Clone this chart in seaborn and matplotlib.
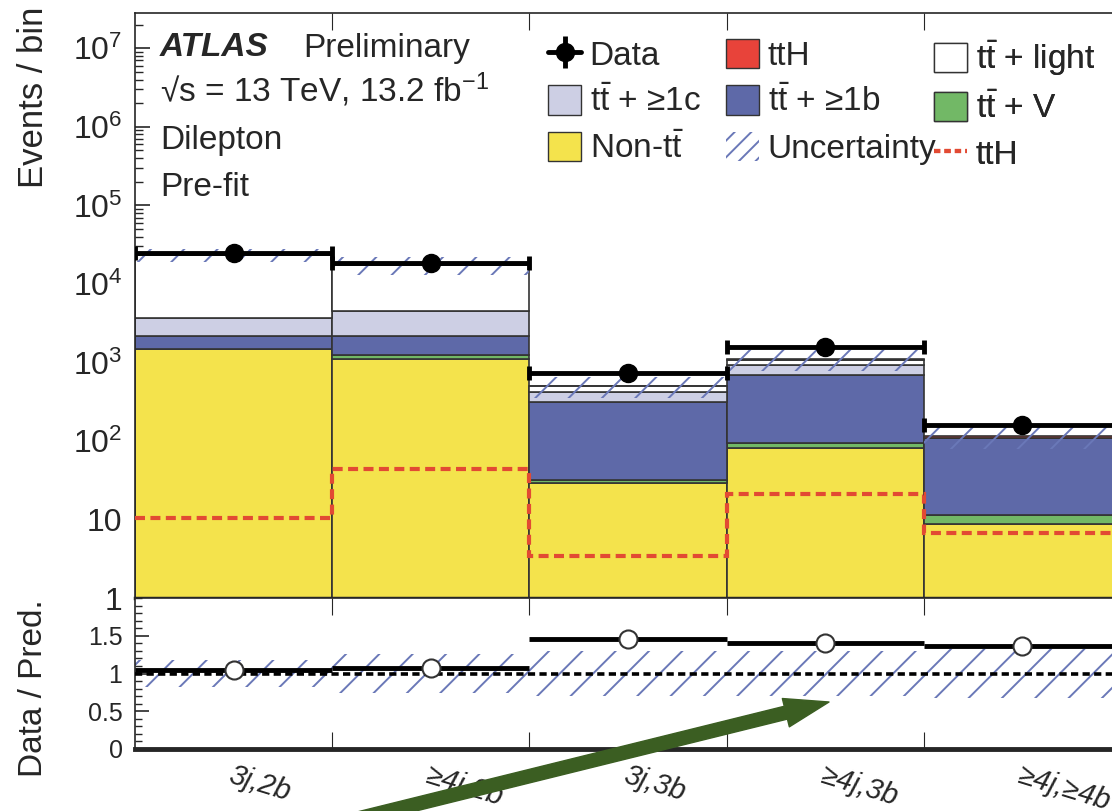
import numpy as np
import pandas as pd
import matplotlib
matplotlib.use("Agg")
import matplotlib.pyplot as plt
import seaborn as sns
from matplotlib.lines import Line2D
from matplotlib.patches import Patch, FancyArrowPatch
from matplotlib.ticker import FixedLocator, FuncFormatter, LogLocator, MultipleLocator, NullFormatter

# regions (bins)
categories = ["3j,2b", "≥4j,2b", "3j,3b", "≥4j,3b", "≥4j,≥4b"]

# stacked predictions, bottom -> top
non_tt = [1480, 1100, 29, 81, 8.7]
tt_v = [20, 130, 3, 13, 2.7]
tt_1b = [650, 920, 278, 596, 96.6]
tt_1c = [1490, 2320, 107, 230, 1.5]
tt_light = [19850, 12990, 80, 159, 1.0]
tth = [10.5, 44, 3.4, 21, 6.7]

data = [25100, 18700, 730, 1550, 158]
ratio = [1.04, 1.07, 1.46, 1.41, 1.36]
syst = [0.18, 0.26, 0.30, 0.30, 0.33]

proc_names = ["Non-tt", "ttV", "tt1b", "tt1c", "ttlight", "ttH"]
proc_vals = [non_tt, tt_v, tt_1b, tt_1c, tt_light, tth]
colors = {"Non-tt": "#f4e34c", "ttV": "#72b866", "tt1b": "#5e69a8",
          "tt1c": "#cdcfe4", "ttlight": "#ffffff", "ttH": "#e8433a"}
hatch_col = "#6a78b8"
tth_line_col = "#e24a33"

sns.set_style("ticks")
plt.rcParams["font.family"] = ["Liberation Sans", "DejaVu Sans"]
plt.rcParams["mathtext.fontset"] = "custom"
plt.rcParams["mathtext.rm"] = "Liberation Sans"
plt.rcParams["mathtext.it"] = "Liberation Sans:italic"
plt.rcParams["mathtext.bf"] = "Liberation Sans:bold"
plt.rcParams["hatch.linewidth"] = 1.4

edges = np.arange(len(categories) + 1)
centers = edges[:-1] + 0.5

rows = []
for name, vals in zip(proc_names, proc_vals):
    for c, v in zip(centers, vals):
        rows.append({"x": c, "events": v, "process": name})
df = pd.DataFrame(rows)

pred = np.sum(np.array(proc_vals), axis=0)
syst = np.array(syst)

fig = plt.figure(figsize=(11.12, 8.11), dpi=100)
left = 135 / 1112
width = 986 / 1112
ax = fig.add_axes([left, 1 - 598 / 811, width, 585 / 811])
rax = fig.add_axes([left, 1 - 749 / 811, width, 151 / 811])

# seaborn stacks the first hue level on top
sns.histplot(data=df, x="x", weights="events", hue="process",
             hue_order=proc_names[::-1], palette=colors, multiple="stack",
             bins=[float(e) for e in edges], element="bars",
             edgecolor="#333333", linewidth=1.2,
             alpha=1, legend=False, ax=ax)
ax.set_yscale("log")

# uncertainty band
ax.bar(centers, pred * 2 * syst, bottom=pred * (1 - syst), width=1,
       facecolor="none", edgecolor=hatch_col, hatch="/", linewidth=0, zorder=3)
ax.stairs(tth, edges, baseline=None, color=tth_line_col, lw=3,
          ls=(0, (2.4, 1.3)), zorder=4)
ax.errorbar(centers, data, xerr=0.5, fmt="o", color="k", ms=13,
            elinewidth=3.5, capsize=5, capthick=3.5, zorder=5)

ax.set_xlim(0, 5)
ax.set_ylim(1, 10 ** 7.45)
ax.set_xlabel("")
ax.set_ylabel("")
ax.set_xticks(edges[1:-1])
ax.tick_params(axis="x", which="major", direction="in", top=True, bottom=True,
               length=12, labelbottom=False)
ax.yaxis.set_major_locator(FixedLocator(10.0 ** np.arange(0, 8)))
ax.yaxis.set_minor_locator(LogLocator(base=10, subs=np.arange(2, 10)))
ax.yaxis.set_minor_formatter(NullFormatter())


def log_label(v, pos):
    p = int(round(np.log10(v)))
    if p == 0:
        return "1"
    if p == 1:
        return "10"
    return "$10^{%d}$" % p


ax.yaxis.set_major_formatter(FuncFormatter(log_label))
ax.tick_params(axis="y", which="major", direction="in", length=11, width=1.2,
               labelsize=23, pad=9)
ax.tick_params(axis="y", which="minor", direction="in", length=6, width=1)
for s in ["left", "top", "right"]:
    ax.spines[s].set_linewidth(1.2)
ax.spines["bottom"].set_linewidth(2.5)

# ratio panel
rax.bar(centers, 2 * syst, bottom=1 - syst, width=1, facecolor="none",
        edgecolor=hatch_col, hatch="/", linewidth=0, zorder=2)
rax.axhline(1, color="k", lw=2.6, ls=(0, (2, 1.2)), zorder=3)
rax.errorbar(centers, ratio, xerr=0.5, fmt="o", color="k", mfc="white",
             mec="#333333", ms=13, mew=1.5, elinewidth=3.5, capsize=0, zorder=4)
rax.set_xlim(0, 5)
rax.set_ylim(0, 2)
rax.set_yticks([0, 0.5, 1, 1.5])
rax.set_yticklabels(["0", "0.5", "1", "1.5"])
rax.yaxis.set_minor_locator(MultipleLocator(0.1))
rax.tick_params(axis="y", which="major", direction="in", length=10, width=1.2,
                labelsize=18, pad=9)
rax.tick_params(axis="y", which="minor", direction="in", length=5, width=1)
rax.set_xticks(edges[1:-1])
rax.tick_params(axis="x", which="major", direction="in", top=True, bottom=True,
                length=12, labelbottom=False)
rax.set_xticks(centers, minor=True)
rax.set_xticklabels(categories, minor=True, rotation=-17, ha="left",
                    rotation_mode="anchor", fontstyle="italic", fontsize=21)
rax.tick_params(axis="x", which="minor", length=0, pad=9)
rax.set_xlabel("")
rax.set_ylabel("")
for s in ["left", "top", "right"]:
    rax.spines[s].set_linewidth(1.2)
rax.spines["bottom"].set_linewidth(3.5)

# axis titles
fig.text(34 / 1112, 1 - 7 / 811, "Events / bin", rotation=90, ha="center",
         va="top", fontsize=25)
fig.text(34 / 1112, 1 - 688 / 811, "Data / Pred.", rotation=90, ha="center",
         va="center", fontsize=24)

# ATLAS label block
fig.text(160 / 1112, 1 - 48 / 811, "ATLAS", fontsize=24, fontweight="bold",
         fontstyle="italic", va="center")
fig.text(303 / 1112, 1 - 48 / 811, "Preliminary", fontsize=24, va="center")
fig.text(160 / 1112, 1 - 90 / 811, "√s = 13 TeV, 13.2 fb$^{-1}$", fontsize=24,
         va="center")
fig.text(160 / 1112, 1 - 140 / 811, "Dilepton", fontsize=24, va="center")
fig.text(160 / 1112, 1 - 187 / 811, "Pre-fit", fontsize=24, va="center")

# legend, three fixed columns
tt = r"$\mathrm{t\bar{t}}$"
h_data = (Line2D([], [], color="k", lw=3.5, marker="o", ms=13),
          Line2D([], [], color="k", marker="|", ms=23, mew=3.5, ls="none"))
h_tth = Patch(facecolor=colors["ttH"], edgecolor="#333333", lw=1)
h_light = Patch(facecolor=colors["ttlight"], edgecolor="#333333", lw=1)
h_1c = Patch(facecolor=colors["tt1c"], edgecolor="#333333", lw=1)
h_1b = Patch(facecolor=colors["tt1b"], edgecolor="#333333", lw=1)
h_v = Patch(facecolor=colors["ttV"], edgecolor="#333333", lw=1)
h_non = Patch(facecolor=colors["Non-tt"], edgecolor="#333333", lw=1)
h_unc = Patch(facecolor="white", edgecolor=hatch_col, hatch="//", lw=0)
h_line = Line2D([], [], color=tth_line_col, lw=3, ls=(0, (1.5, 1)))

columns = [
    (548, [h_data, h_1c, h_non], ["Data", tt + " + ≥1c", "Non-" + tt]),
    (726, [h_tth, h_1b, h_unc], ["ttH", tt + " + ≥1b", "Uncertainty"]),
    (934, [h_light, h_v, h_line], [tt + " + light", tt + " + V", "ttH"]),
]
for x0, hs, labs in columns:
    leg = ax.legend(hs, labs, loc="upper left",
                    bbox_to_anchor=(x0 / 1112, 1 - 39 / 811),
                    bbox_transform=fig.transFigure, frameon=False,
                    fontsize=24, borderpad=0, borderaxespad=0,
                    handlelength=1.0, handleheight=0.97, handletextpad=0.25,
                    labelspacing=0.4)
    ax.add_artist(leg)

# green annotation arrow
arrow = FancyArrowPatch((340 / 1112, 1 - 823 / 811), (829 / 1112, 1 - 702 / 811),
                        transform=fig.transFigure,
                        arrowstyle="simple,head_length=32,head_width=21,tail_width=9.5",
                        color="#3b5e22", shrinkA=0, shrinkB=0, clip_on=False,
                        zorder=10)
fig.add_artist(arrow)

fig.savefig("out.png", dpi=100)
